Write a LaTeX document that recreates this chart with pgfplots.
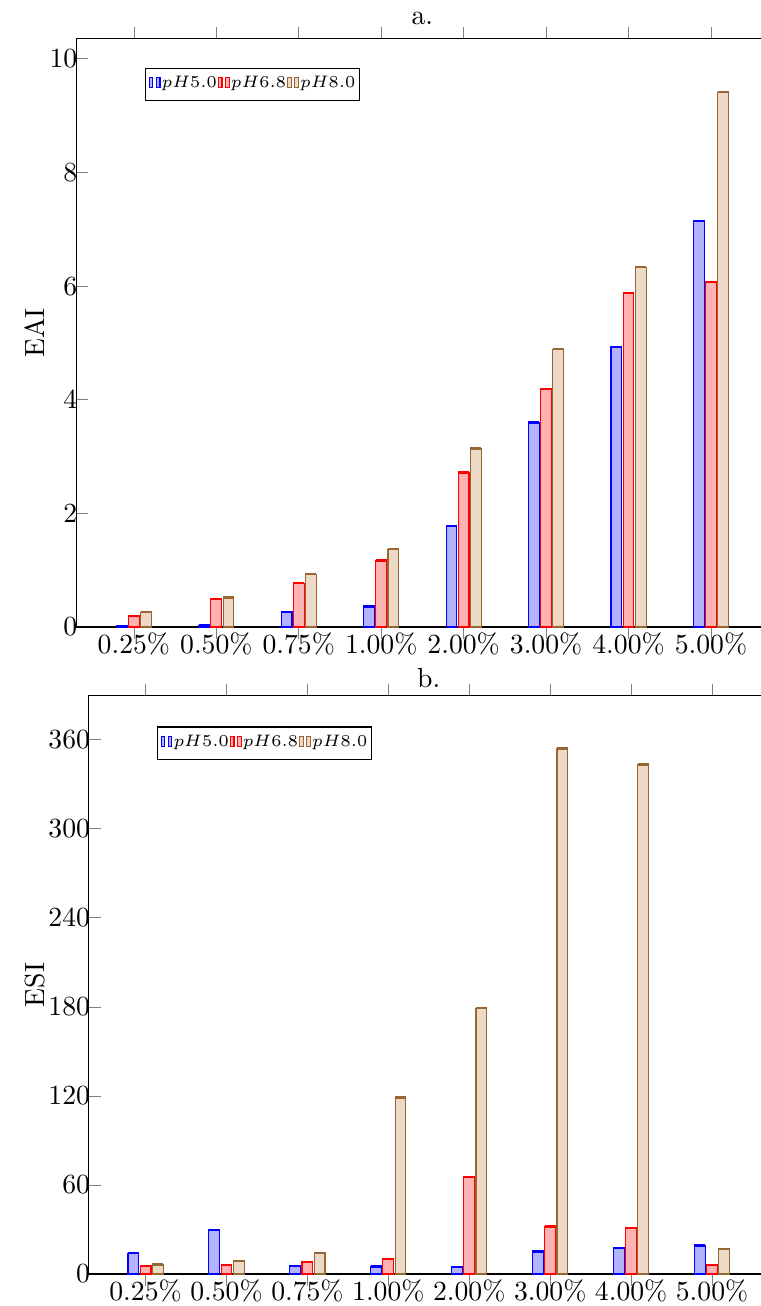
\documentclass[border=0pt]{standalone}
\usepackage{pgfplots}
\pgfplotsset{compat=1.18}
\begin{document}
\begin{tikzpicture}
\useasboundingbox (-277.6pt,14.04pt) rectangle (-2.88pt,-457.6pt);
\pgfplotsset{
  every axis title shift=1.5pt,
  mybars/.style={
    ybar=0.5pt, bar width=3.9pt, scale only axis,
    xmin=-0.7, xmax=7.7, xtick={0,...,7},
    xticklabels={0.25\%,0.50\%,0.75\%,1.00\%,2.00\%,3.00\%,4.00\%,5.00\%},
    ymin=0, ytick pos=left,
    tick label style={inner sep=1pt},
    xticklabel style={yshift=3.3pt},
    yticklabel style={xshift=1.6pt},
    legend columns=-1,
    legend style={anchor=north west, font=\fontsize{6}{7}\selectfont, inner xsep=1.2pt, inner ysep=2pt,
      column sep=0pt, nodes={inner xsep=0.4pt, inner ysep=1pt}},
    legend image code/.code={
      \draw[##1,/tikz/.cd] (0pt,-1.3pt) rectangle (1.3pt,2.5pt);
      \draw[##1,/tikz/.cd] (2.6pt,-1.3pt) rectangle (3.9pt,2.5pt);},
    error bars/y dir=both, error bars/y explicit,
    error bars/error bar style={line width=0.6pt},
  },
  s1/.style={blue, fill=blue!30},
  s2/.style={red, fill=red!30},
  s3/.style={brown!80!black, fill=brown!30},
}
\begin{axis}[mybars, at={(0,0)}, anchor=north east,
  width=250.1pt, height=212.4pt, ymax=10.35,
  ytick={0,2,4,6,8,10}, ylabel={EAI}, title={a.},
  ylabel style={at={(axis description cs:-0.0595,0.5)}, anchor=center, rotate=0},
  legend style={at={(0.099,0.951)}}]
\addplot[s1] coordinates {(0,0.02)+-(0,0.01) (1,0.03)+-(0,0.01) (2,0.27)+-(0,0.01) (3,0.36)+-(0,0.01) (4,1.78)+-(0,0.01) (5,3.60)+-(0,0.01) (6,4.93)+-(0,0.01) (7,7.15)+-(0,0.01)};
\addplot[s2] coordinates {(0,0.20)+-(0,0.01) (1,0.50)+-(0,0.01) (2,0.77)+-(0,0.01) (3,1.17)+-(0,0.01) (4,2.72)+-(0,0.01) (5,4.19)+-(0,0.01) (6,5.88)+-(0,0.01) (7,6.07)+-(0,0.01)};
\addplot[s3] coordinates {(0,0.26)+-(0,0.01) (1,0.52)+-(0,0.01) (2,0.93)+-(0,0.01) (3,1.37)+-(0,0.01) (4,3.14)+-(0,0.01) (5,4.89)+-(0,0.01) (6,6.33)+-(0,0.01) (7,9.41)+-(0,0.01)};
\legend{$pH5.0$,$pH6.8$,$pH8.0$}
\end{axis}
\begin{axis}[mybars, at={(0,-237.24pt)}, anchor=north east,
  width=245.5pt, height=208.8pt, ymax=389.5,
  ytick={0,60,...,360}, ylabel={ESI}, title={b.},
  title style={yshift=-2pt},
  ylabel style={at={(axis description cs:-0.079,0.5)}, anchor=center, rotate=0},
  legend style={at={(0.0997,0.947)}}]
\addplot[s1] coordinates {(0,14.0)+-(0,0.4) (1,29.7)+-(0,0.4) (2,5.5)+-(0,0.4) (3,5.0)+-(0,0.4) (4,4.8)+-(0,0.4) (5,15.1)+-(0,0.4) (6,17.6)+-(0,0.4) (7,19.3)+-(0,0.4)};
\addplot[s2] coordinates {(0,5.5)+-(0,0.4) (1,5.9)+-(0,0.4) (2,8.2)+-(0,0.4) (3,10.2)+-(0,0.4) (4,65.4)+-(0,0.4) (5,32.1)+-(0,0.4) (6,31.2)+-(0,0.4) (7,5.9)+-(0,0.4)};
\addplot[s3] coordinates {(0,6.4)+-(0,0.4) (1,8.8)+-(0,0.4) (2,14.2)+-(0,0.4) (3,118.9)+-(0,0.4) (4,179.0)+-(0,0.4) (5,354.0)+-(0,0.4) (6,343.3)+-(0,0.4) (7,16.9)+-(0,0.4)};
\legend{$pH5.0$,$pH6.8$,$pH8.0$}
\end{axis}
\end{tikzpicture}
\end{document}
